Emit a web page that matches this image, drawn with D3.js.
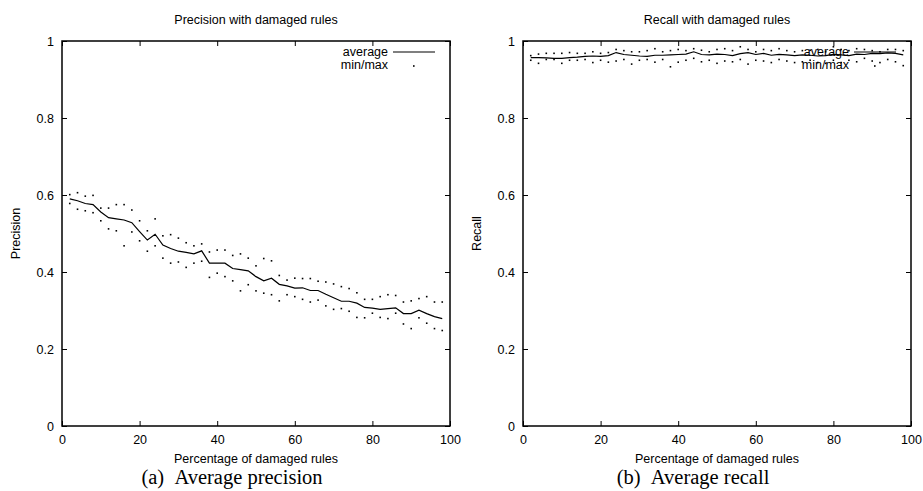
<!DOCTYPE html>
<html>
<head>
<meta charset="utf-8">
<script src="https://cdn.jsdelivr.net/npm/d3@7"></script>
<style>
  body { margin: 0; background: #fff; }
  svg text { font-family: "Liberation Sans", Arial, Helvetica, sans-serif; font-size: 12.5px; fill: #000; }
  svg text.caption { font-family: "Liberation Serif", "Times New Roman", serif; font-size: 20.5px; }
</style>
</head>
<body>
<svg id="chart" width="923" height="491"></svg>
<script>
// ---- Data ----
const xs = d3.range(2, 100, 2);   // percentage of damaged rules, 2..98

const precAvg = [0.590, 0.585, 0.578, 0.575, 0.556, 0.541, 0.538, 0.535, 0.528, 0.505,
                 0.483, 0.498, 0.470, 0.461, 0.454, 0.451, 0.447, 0.455, 0.423, 0.423,
                 0.423, 0.409, 0.406, 0.403, 0.388, 0.377, 0.384, 0.368, 0.364, 0.358,
                 0.359, 0.352, 0.352, 0.342, 0.333, 0.324, 0.324, 0.319, 0.308, 0.306,
                 0.303, 0.305, 0.307, 0.292, 0.292, 0.301, 0.292, 0.284, 0.279];
const precMax = [0.601, 0.606, 0.597, 0.599, 0.566, 0.566, 0.575, 0.575, 0.561, 0.533,
                 0.507, 0.538, 0.494, 0.497, 0.488, 0.476, 0.468, 0.473, 0.452, 0.457,
                 0.457, 0.443, 0.447, 0.436, 0.416, 0.435, 0.429, 0.391, 0.379, 0.384,
                 0.383, 0.383, 0.376, 0.374, 0.369, 0.362, 0.357, 0.346, 0.329, 0.329,
                 0.336, 0.341, 0.339, 0.322, 0.325, 0.331, 0.336, 0.322, 0.322];
const precMin = [0.578, 0.563, 0.559, 0.554, 0.533, 0.512, 0.507, 0.468, 0.504, 0.481,
                 0.454, 0.468, 0.436, 0.423, 0.426, 0.412, 0.423, 0.428, 0.386, 0.397,
                 0.388, 0.377, 0.351, 0.367, 0.351, 0.345, 0.341, 0.325, 0.341, 0.336,
                 0.329, 0.322, 0.327, 0.312, 0.303, 0.305, 0.298, 0.282, 0.281, 0.293,
                 0.282, 0.279, 0.293, 0.265, 0.253, 0.281, 0.267, 0.253, 0.248];

const recAvg = [0.957, 0.957, 0.956, 0.955, 0.955, 0.957, 0.958, 0.960, 0.961, 0.960,
                0.962, 0.970, 0.965, 0.963, 0.961, 0.960, 0.963, 0.963, 0.964, 0.965,
                0.966, 0.972, 0.965, 0.964, 0.966, 0.965, 0.962, 0.967, 0.970, 0.965,
                0.968, 0.963, 0.965, 0.964, 0.962, 0.964, 0.963, 0.961, 0.962, 0.965,
                0.964, 0.962, 0.966, 0.965, 0.968, 0.967, 0.969, 0.968, 0.964];
const recMax = [0.962, 0.966, 0.968, 0.968, 0.968, 0.970, 0.968, 0.968, 0.972, 0.968,
                0.970, 0.978, 0.975, 0.972, 0.972, 0.975, 0.980, 0.972, 0.975, 0.978,
                0.975, 0.980, 0.976, 0.972, 0.978, 0.980, 0.975, 0.985, 0.978, 0.972,
                0.978, 0.975, 0.980, 0.975, 0.972, 0.975, 0.976, 0.978, 0.972, 0.985,
                0.978, 0.975, 0.980, 0.978, 0.975, 0.972, 0.978, 0.978, 0.975];
const recMin = [0.950, 0.942, 0.952, 0.952, 0.942, 0.950, 0.950, 0.952, 0.944, 0.950,
                0.945, 0.948, 0.952, 0.940, 0.950, 0.952, 0.945, 0.952, 0.933, 0.945,
                0.950, 0.955, 0.946, 0.950, 0.942, 0.948, 0.946, 0.952, 0.940, 0.950,
                0.948, 0.944, 0.952, 0.948, 0.944, 0.946, 0.950, 0.944, 0.942, 0.950,
                0.944, 0.950, 0.946, 0.955, 0.948, 0.944, 0.952, 0.946, 0.936];

const xTicks = [0, 20, 40, 60, 80, 100];
const yTicks = [0, 0.2, 0.4, 0.6, 0.8, 1];

const panels = [
    {title: "Precision with damaged rules", ylabel: "Precision", caption: "(a)\u2002Average precision",
     avg: precAvg, max: precMax, min: precMin, left: 62, capX: 232},
    {title: "Recall with damaged rules", ylabel: "Recall", caption: "(b)\u2002Average recall",
     avg: recAvg, max: recMax, min: recMin, left: 523, capX: 693}
];

const svg = d3.select("#chart");
const plotTop = 41, plotBottom = 426, pw = 388;

function drawPanel(p) {
    const x = d3.scaleLinear().domain([0, 100]).range([p.left, p.left + pw]);
    const y = d3.scaleLinear().domain([0, 1]).range([plotBottom, plotTop]);
    const g = svg.append("g");

    // axes, gnuplot style: inward ticks, mirrored on top/right
    const fmt = d => d3.format("~g")(d);
    g.append("g").attr("transform", `translate(0,${plotBottom})`)
        .call(d3.axisBottom(x).tickValues(xTicks).tickSizeInner(-5).tickSizeOuter(0).tickPadding(9).tickFormat(fmt));
    g.append("g").attr("transform", `translate(0,${plotTop})`)
        .call(d3.axisTop(x).tickValues(xTicks).tickSizeInner(-5).tickSizeOuter(0).tickFormat(""));
    g.append("g").attr("transform", `translate(${p.left},0)`)
        .call(d3.axisLeft(y).tickValues(yTicks).tickSizeInner(-5).tickSizeOuter(0).tickPadding(8).tickFormat(fmt));
    g.append("g").attr("transform", `translate(${p.left + pw},0)`)
        .call(d3.axisRight(y).tickValues(yTicks).tickSizeInner(-5).tickSizeOuter(0).tickFormat(""));
    g.selectAll(".domain").remove();
    g.selectAll(".tick line").attr("stroke", "#000").attr("stroke-width", 1);
    g.selectAll("g").attr("font-family", null).attr("font-size", null);

    g.append("rect")
        .attr("x", p.left).attr("y", plotTop).attr("width", pw).attr("height", plotBottom - plotTop)
        .attr("fill", "none").attr("stroke", "#000").attr("stroke-width", 1.5);

    // min/max dots
    const dots = xs.map((v, i) => [v, p.max[i]]).concat(xs.map((v, i) => [v, p.min[i]]));
    g.append("g").selectAll("rect").data(dots).join("rect")
        .attr("x", d => x(d[0]) - 0.8).attr("y", d => y(d[1]) - 0.8)
        .attr("width", 1.6).attr("height", 1.6).attr("fill", "#000");

    // average line
    const line = d3.line().x((d, i) => x(xs[i])).y(d => y(d));
    g.append("path").datum(p.avg).attr("d", line)
        .attr("fill", "none").attr("stroke", "#000").attr("stroke-width", 1.2);

    // legend
    const lx = p.left + pw - 62;
    g.append("text").attr("x", lx).attr("y", 56).attr("text-anchor", "end").text("average");
    g.append("line").attr("x1", lx + 5).attr("x2", lx + 47).attr("y1", 52).attr("y2", 52)
        .attr("stroke", "#000").attr("stroke-width", 1.2);
    g.append("text").attr("x", lx).attr("y", 69).attr("text-anchor", "end").text("min/max");
    g.append("rect").attr("x", lx + 25).attr("y", 65.2).attr("width", 1.6).attr("height", 1.6).attr("fill", "#000");

    // titles and labels
    g.append("text").attr("x", p.left + pw / 2).attr("y", 24).attr("text-anchor", "middle").text(p.title);
    g.append("text").attr("x", p.left + pw / 2).attr("y", 463).attr("text-anchor", "middle").text("Percentage of damaged rules");
    g.append("text").attr("transform", `translate(${p.left - 42},${(plotTop + plotBottom) / 2}) rotate(-90)`)
        .attr("text-anchor", "middle").text(p.ylabel);
    g.append("text").attr("class", "caption").attr("x", p.capX).attr("y", 484)
        .attr("text-anchor", "middle").text(p.caption);
}

panels.forEach(drawPanel);
</script>
</body>
</html>
